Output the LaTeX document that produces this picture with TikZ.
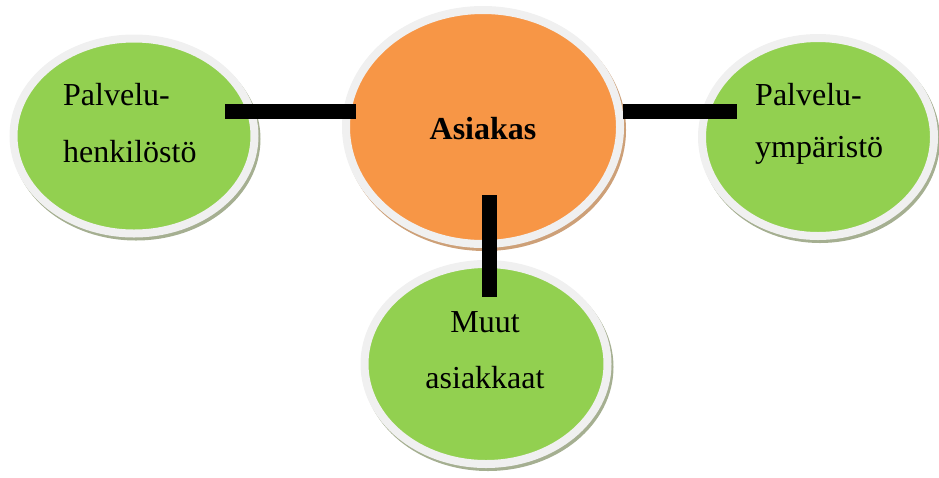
\documentclass[tikz,border=0pt]{standalone}
\usepackage{fontspec}
\setmainfont{Liberation Serif}
\usetikzlibrary{shapes.geometric,shadows}
\definecolor{cgreen}{HTML}{92D050}
\definecolor{corange}{HTML}{F79646}
\definecolor{crim}{HTML}{F0F0F0}
\definecolor{shgreen}{RGB}{165,175,145}
\definecolor{shorange}{RGB}{205,160,120}
\tikzset{
  bubble/.style={ellipse, inner sep=0pt, draw=crim, line width=8pt},
  greenbubble/.style={bubble, fill=cgreen, drop shadow={shadow xshift=2pt, shadow yshift=-3pt, fill=shgreen, draw=shgreen, line width=8pt, opacity=1}},
  orangebubble/.style={bubble, fill=corange, drop shadow={shadow xshift=2pt, shadow yshift=-3pt, fill=shorange, draw=shorange, line width=8pt, opacity=1}},
  lbl/.style={inner sep=0pt, font=\fontsize{32}{38}\selectfont},
  bar/.style={line width=15pt, black}
}
\begin{document}
\begin{tikzpicture}[x=1pt, y=-1pt]
\useasboundingbox (0,0) rectangle (939,477);
% ellipses
\node[greenbubble, minimum width=241pt, minimum height=195pt] (pe) at (134,136) {};
\node[orangebubble, minimum width=274pt, minimum height=234pt] (as) at (483,127) {};
\node[greenbubble, minimum width=232pt, minimum height=198pt] (py) at (818,137) {};
\node[greenbubble, minimum width=243pt, minimum height=200pt] (ma) at (486,364) {};
% connectors
\coordinate (c1) at (225,111.5);
\coordinate (c2) at (356,111.5);
\coordinate (c3) at (623,111);
\coordinate (c4) at (737,111);
\coordinate (c5) at (489,195);
\coordinate (c6) at (489,297);
\draw[bar] (c1) -- (c2);
\draw[bar] (c3) -- (c4);
\draw[bar] (c5) -- (c6);
% labels
\node[lbl, anchor=base west] (t1) at (63,105) {Palvelu-};
\node[lbl, anchor=base west] (t2) at (63,162) {henkilöstö};
\node[lbl, anchor=base, font=\fontsize{32}{38}\selectfont\bfseries] (t3) at (483,139) {Asiakas};
\node[lbl, anchor=base west] (t4) at (755,105) {Palvelu-};
\node[lbl, anchor=base west] (t5) at (755,157) {ympäristö};
\node[lbl, anchor=base] (t6) at (485,332) {Muut};
\node[lbl, anchor=base] (t7) at (485,388) {asiakkaat};
\end{tikzpicture}
\end{document}
